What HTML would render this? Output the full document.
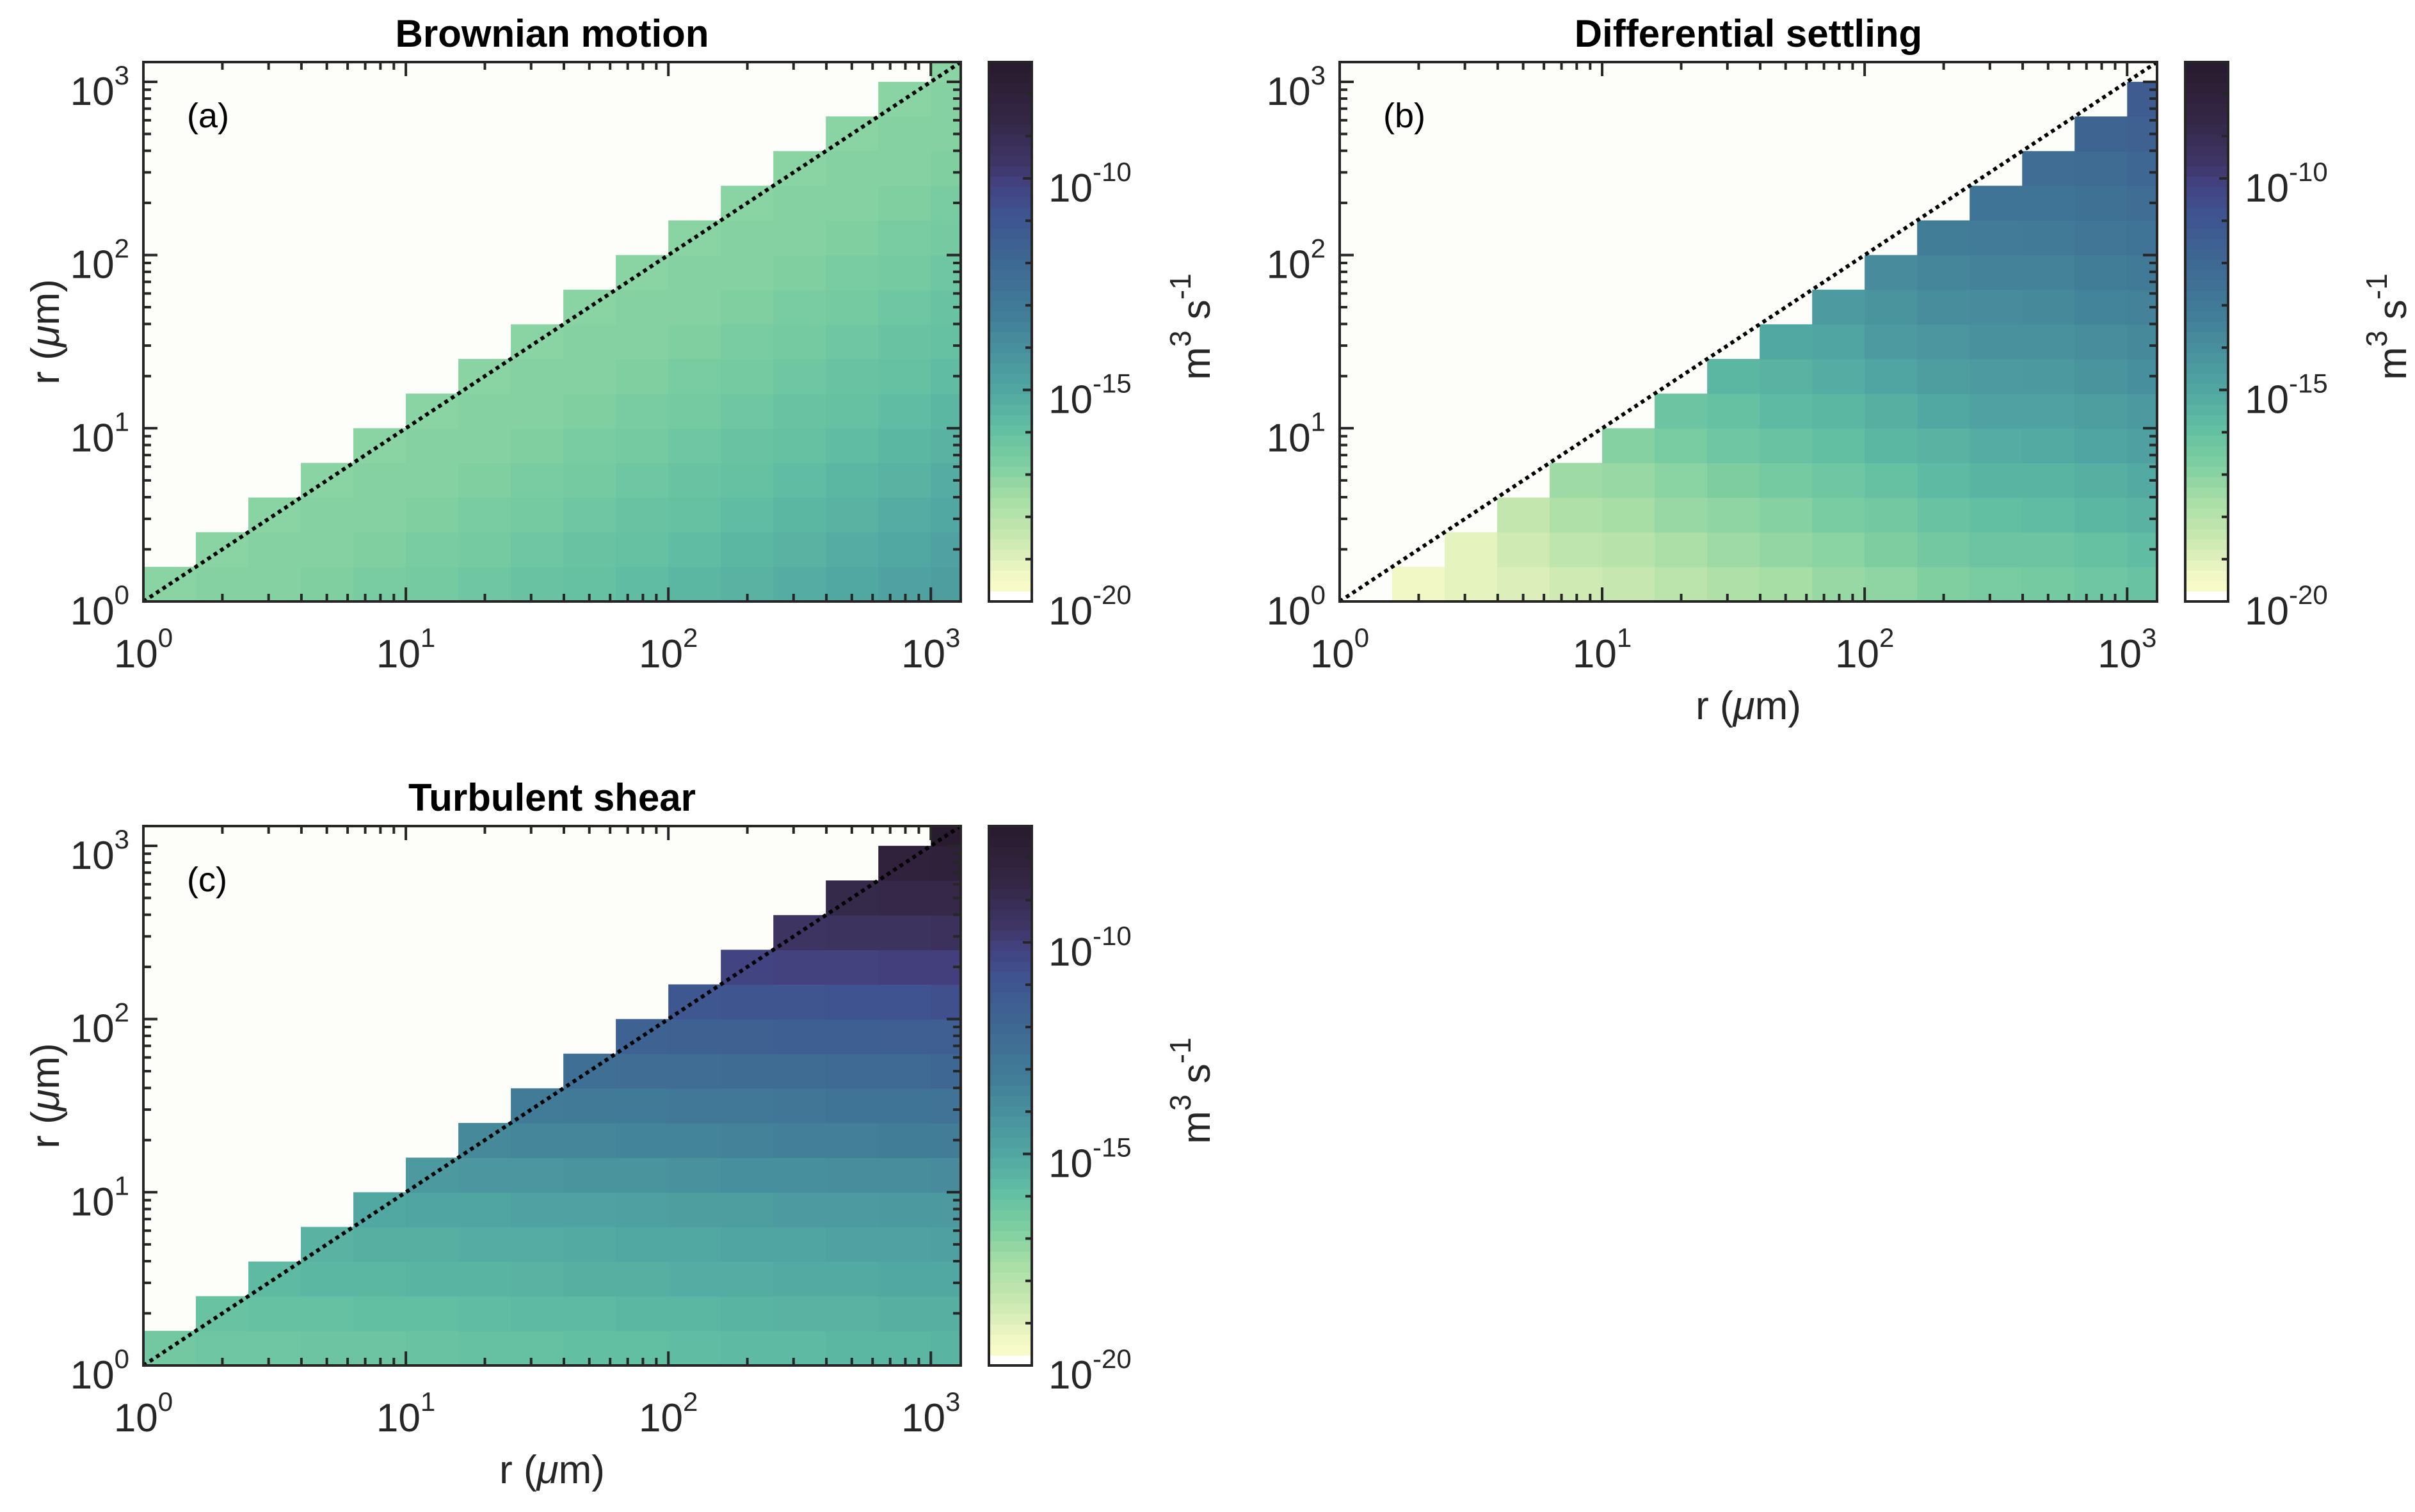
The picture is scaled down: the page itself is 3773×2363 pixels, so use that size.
<!DOCTYPE html>
<html><head><meta charset="utf-8"><style>
html,body{margin:0;padding:0;background:#fff;}
svg{display:block;font-family:"Liberation Sans",Arial,sans-serif;}
</style></head><body>
<svg id="fig" width="3773" height="2363" viewBox="0 0 3773 2363" xmlns="http://www.w3.org/2000/svg"></svg>
<script>
// ---- data: log10 kernel (m^3 s^-1), listed per column i (r index), entries j = 0.. (row index)
var binLogStep = 0.2;
var axisLogMax = 3.114;
var cbarLogMin = -20;
var cbarLogMax = -7.25;
var xTickLabels = ["0","1","2","3"];
var cbarTickLabels = ["-20","-15","-10"];
var brownianCols = [
[-17.0],
[-16.9,-17.0],
[-16.9,-16.9,-17.0],
[-16.8,-16.9,-16.9,-17.0],
[-16.6,-16.8,-16.9,-16.9,-17.0],
[-16.5,-16.6,-16.8,-16.9,-16.9,-17.0],
[-16.3,-16.5,-16.6,-16.8,-16.9,-16.9,-17.0],
[-16.1,-16.3,-16.5,-16.6,-16.8,-16.9,-16.9,-17.0],
[-16.0,-16.1,-16.3,-16.5,-16.6,-16.8,-16.9,-16.9,-17.0],
[-15.8,-16.0,-16.1,-16.3,-16.5,-16.6,-16.8,-16.9,-16.9,-17.0],
[-15.6,-15.8,-16.0,-16.1,-16.3,-16.5,-16.6,-16.8,-16.9,-16.9,-17.0],
[-15.4,-15.6,-15.8,-16.0,-16.1,-16.3,-16.5,-16.6,-16.8,-16.9,-16.9,-17.0],
[-15.2,-15.4,-15.6,-15.8,-16.0,-16.1,-16.3,-16.5,-16.6,-16.8,-16.9,-16.9,-17.0],
[-15.0,-15.2,-15.4,-15.6,-15.8,-16.0,-16.1,-16.3,-16.5,-16.6,-16.8,-16.9,-16.9,-17.0],
[-14.8,-15.0,-15.2,-15.4,-15.6,-15.8,-16.0,-16.1,-16.3,-16.5,-16.6,-16.8,-16.9,-16.9,-17.0],
[-14.6,-14.8,-15.0,-15.2,-15.4,-15.6,-15.8,-16.0,-16.1,-16.3,-16.5,-16.6,-16.8,-16.9,-16.9,-17.0]
];
var settlingCols = [
[],
[-19.4],
[-19.1,-19.1],
[-18.9,-18.6,-18.3],
[-18.6,-18.2,-17.8,-17.4],
[-18.4,-18.0,-17.6,-17.3,-16.9],
[-18.1,-17.7,-17.3,-17.0,-16.6,-16.2],
[-17.8,-17.4,-17.1,-16.7,-16.3,-16.0,-15.6],
[-17.6,-17.2,-16.9,-16.5,-16.1,-15.7,-15.4,-15.0],
[-17.3,-17.0,-16.6,-16.3,-15.9,-15.6,-15.2,-14.9,-14.5],
[-17.1,-16.7,-16.4,-16.0,-15.6,-15.3,-14.9,-14.5,-14.2,-13.8],
[-16.8,-16.4,-16.1,-15.7,-15.4,-15.0,-14.6,-14.3,-13.9,-13.6,-13.2],
[-16.6,-16.2,-15.9,-15.5,-15.2,-14.8,-14.5,-14.1,-13.8,-13.4,-13.1,-12.7],
[-16.5,-16.2,-15.8,-15.5,-15.1,-14.8,-14.4,-14.1,-13.7,-13.4,-13.0,-12.7,-12.3],
[-16.3,-16.0,-15.6,-15.3,-14.9,-14.6,-14.2,-13.9,-13.5,-13.2,-12.8,-12.5,-12.2,-11.8],
[-16.1,-15.8,-15.4,-15.1,-14.7,-14.4,-14.0,-13.7,-13.4,-13.0,-12.7,-12.3,-12.0,-11.6,-11.3]
];
var shearCols = [
[-16.4],
[-16.3,-16.1],
[-16.3,-16.0,-15.7],
[-16.2,-16.0,-15.6,-15.4],
[-16.2,-15.9,-15.6,-15.3,-15.0],
[-16.1,-15.9,-15.5,-15.3,-14.9,-14.4],
[-16.0,-15.8,-15.5,-15.2,-14.9,-14.3,-13.7],
[-16.0,-15.7,-15.4,-15.2,-14.8,-14.3,-13.6,-13.1],
[-15.9,-15.7,-15.3,-15.1,-14.8,-14.2,-13.6,-13.0,-12.4],
[-15.9,-15.6,-15.3,-15.0,-14.7,-14.2,-13.5,-13.0,-12.3,-11.7],
[-15.8,-15.6,-15.2,-15.0,-14.6,-14.1,-13.5,-12.9,-12.3,-11.6,-11.0],
[-15.7,-15.5,-15.2,-14.9,-14.6,-14.0,-13.4,-12.9,-12.2,-11.6,-10.9,-10.2],
[-15.7,-15.4,-15.1,-14.9,-14.5,-14.0,-13.3,-12.8,-12.2,-11.5,-10.9,-10.1,-9.5],
[-15.6,-15.4,-15.1,-14.8,-14.5,-13.9,-13.3,-12.7,-12.1,-11.5,-10.8,-10.1,-9.4,-8.8],
[-15.6,-15.3,-15.0,-14.8,-14.4,-13.9,-13.2,-12.7,-12.1,-11.4,-10.8,-10.0,-9.4,-8.7,-8.1],
[-15.5,-15.3,-15.0,-14.7,-14.4,-13.8,-13.2,-12.6,-12.0,-11.4,-10.7,-10.0,-9.3,-8.7,-8.0,-7.4]
];

// ---- colormap (value -> color)
var cmV = [-19.75,-19.3,-18.5,-17.6,-16.8,-15.9,-15.0,-14.2,-13.2,-12.1,-10.8,-10.0,-9.7,-8.7,-7.5];
var cmC = ["#fcfdcb","#eef6c4","#cae8b0","#a7dea6","#80cfa1","#62bfa2","#51a7a2","#4a949e","#427d98","#3e6a93","#3f5390","#433e7c","#3f3769","#352848","#2a1c30"];
function hex(h){return [parseInt(h.substr(1,2),16),parseInt(h.substr(3,2),16),parseInt(h.substr(5,2),16)];}
function cmap(v){
  if(v<cmV[0]) return "#ffffff";
  if(v>=cmV[cmV.length-1]) return cmC[cmC.length-1];
  for(var k=0;k<cmV.length-1;k++){
    if(v>=cmV[k]&&v<=cmV[k+1]){
      var t=(v-cmV[k])/(cmV[k+1]-cmV[k]);var a=hex(cmC[k]),b=hex(cmC[k+1]);
      return "rgb("+Math.round(a[0]+(b[0]-a[0])*t)+","+Math.round(a[1]+(b[1]-a[1])*t)+","+Math.round(a[2]+(b[2]-a[2])*t)+")";
    }
  }
  return cmC[cmC.length-1];
}

var NS="http://www.w3.org/2000/svg";
var svg=document.getElementById("fig");
function mk(tag,attrs,parent){var e=document.createElementNS(NS,tag);for(var k in attrs)e.setAttribute(k,attrs[k]);(parent||svg).appendChild(e);return e;}
var INK="#262626";

function supText(parent,x,y,base,sup,anchor,name){
  var t=mk("text",{x:x,y:y,"font-size":62,fill:INK,"text-anchor":anchor},parent);
  
  
  t.appendChild(document.createTextNode(base));
  var s=mk("tspan",{dy:-32,"font-size":42},t);s.textContent=sup;
  return t;
}

function panel(cfg){
  var g=mk("g",{});
  
  
  var x0=cfg.x0,x1=cfg.x0+1277,y0=cfg.y0,y1=cfg.y0+843;
  function X(l){return x0+l/axisLogMax*(x1-x0);}
  function Y(l){return y1-l/axisLogMax*(y1-y0);}
  mk("rect",{x:x0,y:y0,width:x1-x0,height:y1-y0,fill:"#fdfdfa"},g);
  var cells=mk("g",{},g);
  
  
  cfg.data.forEach(function(col,i){
    col.forEach(function(v,j){
      var la=i*binLogStep,lb=Math.min((i+1)*binLogStep,axisLogMax);
      var ya=j*binLogStep,yb=Math.min((j+1)*binLogStep,axisLogMax);
      var r=mk("rect",{x:X(la),y:Y(yb),width:X(lb)-X(la)+0.6,height:Y(ya)-Y(yb)+0.6,fill:cmap(v)},cells);
      
      
    });
  });
  var dl=mk("line",{x1:X(0),y1:Y(0),x2:X(axisLogMax),y2:Y(axisLogMax),stroke:"#000","stroke-width":6,"stroke-dasharray":"6 6"},g);
  
  
  var tk=mk("g",{stroke:INK,"stroke-width":4},g);
  
  
  for(var d=0;d<4;d++){for(var m=1;m<10;m++){
    var l=d+Math.log10(m); if(l>axisLogMax) continue;
    var len=(m==1)?22:12;
    mk("line",{x1:X(l),y1:y1,x2:X(l),y2:y1-len},tk);
    mk("line",{x1:X(l),y1:y0,x2:X(l),y2:y0+len},tk);
    mk("line",{x1:x0,y1:Y(l),x2:x0+len,y2:Y(l)},tk);
    mk("line",{x1:x1,y1:Y(l),x2:x1-len,y2:Y(l)},tk);
  }}
  var fr=mk("rect",{x:x0,y:y0,width:x1-x0,height:y1-y0,fill:"none",stroke:INK,"stroke-width":4},g);
  
  
  xTickLabels.forEach(function(s,k){
    supText(g,X(k),y1+103,"10",s,"middle","x-tick-label");
    supText(g,x0-22,Y(k)+36,"10",s,"end","y-tick-label");
  });
  var tt=mk("text",{x:(x0+x1)/2,y:y0-24,"font-size":60,"font-weight":"bold",fill:"#000","text-anchor":"middle"},g);
  
  
  tt.textContent=cfg.title;
  var pl=mk("text",{x:x0+68,y:y0+102,"font-size":54,fill:"#000"},g);
  
  
  pl.textContent=cfg.label;
  function rLabel(tx,ty,rot,name){
    var t=mk("text",{x:tx,y:ty,"font-size":62,fill:INK,"text-anchor":"middle"},g);
    if(rot) t.setAttribute("transform","rotate(-90 "+tx+" "+ty+")");
    
    
    t.appendChild(document.createTextNode("r ("));
    var mu=mk("tspan",{"font-style":"italic"},t);mu.textContent="\u03bc";
    t.appendChild(document.createTextNode("m)"));
  }
  if(cfg.xlabel) rLabel((x0+x1)/2,y1+184,false,"x-axis-title");
  if(cfg.ylabel) rLabel(x0-132,(y0+y1)/2,true,"y-axis-title");
  var cx0=x1+44,cx1=x1+111;
  var cb=mk("g",{},g);
  
  
  function C(v){return y1-(v-cbarLogMin)/(cbarLogMax-cbarLogMin)*(y1-y0);}
  var nSeg=52;
  for(var s=0;s<nSeg;s++){
    var va=cbarLogMin+(cbarLogMax-cbarLogMin)*s/nSeg,vb=cbarLogMin+(cbarLogMax-cbarLogMin)*(s+1)/nSeg;
    mk("rect",{x:cx0,y:C(vb),width:cx1-cx0,height:C(va)-C(vb)+0.6,fill:cmap((va+vb)/2)},cb);
  }
  for(var v=-20;v<=-8;v++){ mk("line",{x1:cx1,y1:C(v),x2:cx1-(v%5==0?14:10),y2:C(v),stroke:INK,"stroke-width":4},cb); }
  mk("rect",{x:cx0,y:y0,width:cx1-cx0,height:y1-y0,fill:"none",stroke:INK,"stroke-width":4},cb);
  cbarTickLabels.forEach(function(s){ supText(cb,cx1+26,C(parseFloat(s))+36,"10",s,"start","colorbar-tick-label"); });
  var ux=x1+389,uy=(y0+y1)/2-8;
  var ul=mk("text",{x:ux,y:uy,"font-size":62,fill:INK,"text-anchor":"middle",transform:"rotate(-90 "+ux+" "+uy+")"},cb);
  
  
  ul.appendChild(document.createTextNode("m"));
  var s1=mk("tspan",{dy:-30,"font-size":46},ul);s1.textContent="3";
  var s2=mk("tspan",{dy:30,"font-size":62},ul);s2.textContent=" s";
  var s3=mk("tspan",{dy:-30,"font-size":46},ul);s3.textContent="-1";
}

panel({name:"panel-brownian-motion",x0:224,y0:97,data:brownianCols,title:"Brownian motion",label:"(a)",xlabel:false,ylabel:true});
panel({name:"panel-differential-settling",x0:2093,y0:97,data:settlingCols,title:"Differential settling",label:"(b)",xlabel:true,ylabel:false});
panel({name:"panel-turbulent-shear",x0:224,y0:1291,data:shearCols,title:"Turbulent shear",label:"(c)",xlabel:true,ylabel:true});
</script>
</body></html>
